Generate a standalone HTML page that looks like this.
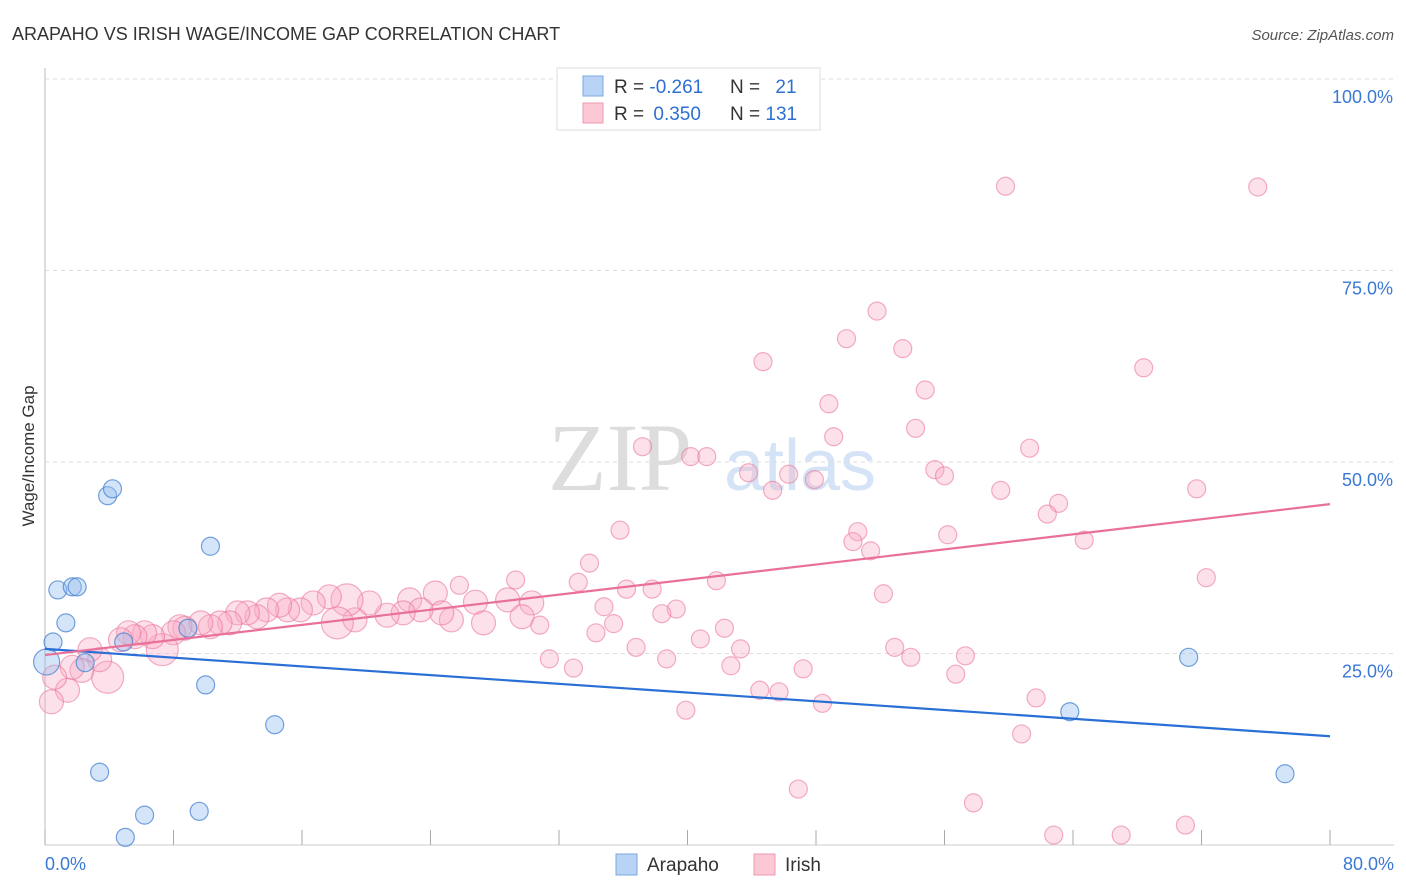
<!DOCTYPE html>
<html><head><meta charset="utf-8"><style>
body{margin:0;background:#fff;font-family:"Liberation Sans",sans-serif}
#c{position:relative;width:1406px;height:892px;overflow:hidden}
</style></head><body>
<div id="c">
<svg id="s" width="1406" height="892">
<text x="12" y="40" font-size="18" fill="#333">ARAPAHO VS IRISH WAGE/INCOME GAP CORRELATION CHART</text>
<text x="1394" y="40" font-size="15" fill="#555" text-anchor="end" font-style="italic">Source: ZipAtlas.com</text>
<text x="620" y="490" font-size="96" fill="#ddd" font-family="Liberation Serif" text-anchor="middle">ZIP</text>
<text x="800" y="490" font-size="72" fill="#d4e3f5" text-anchor="middle">atlas</text>
<text transform="translate(34,456) rotate(-90)" font-size="17" fill="#333" text-anchor="middle">Wage/Income Gap</text>
<g id="grid"></g><g id="pts"></g><g id="lines"></g>
<g>
<rect x="557" y="68" width="263" height="62" fill="#fff" stroke="#ddd"/>
<rect x="583" y="76" width="20" height="20" fill="#b8d3f5" stroke="#7aa8e0"/>
<rect x="583" y="103" width="20" height="20" fill="#fcc8d6" stroke="#ee9ab2"/>
<text x="614" y="93" font-size="19" fill="#333">R = <tspan fill="#2e6fd1">-0.261</tspan></text>
<text x="730" y="93" font-size="19" fill="#333">N = <tspan fill="#2e6fd1" dx="10">21</tspan></text>
<text x="614" y="120" font-size="19" fill="#333">R = <tspan fill="#2e6fd1" dx="4">0.350</tspan></text>
<text x="730" y="120" font-size="19" fill="#333">N = <tspan fill="#2e6fd1">131</tspan></text>
</g>
<g>
<rect x="616" y="854" width="21" height="21" fill="#b8d3f5" stroke="#7aa8e0"/>
<text x="647" y="871" font-size="19" fill="#333">Arapaho</text>
<rect x="754" y="854" width="21" height="21" fill="#fcc8d6" stroke="#ee9ab2"/>
<text x="785" y="871" font-size="19" fill="#333">Irish</text>
</g>
</svg></div>
<script>
const yTicks=[100,75,50,25];
const yTickLabels=["100.0%","75.0%","50.0%","25.0%"];
const xTicks=[0,8,16,24,32,40,48,56,64,72,80];
const arapahoX=[0.5,0.8,1.3,1.7,2.0,3.9,4.2,3.4,4.9,6.2,5.0,8.9,9.6,10.0,10.3,14.3,63.8,71.2,77.2,0.1,2.5];
const arapahoY=[26.5,33.3,29.0,33.7,33.7,45.6,46.5,9.5,26.5,3.9,1.0,28.3,4.4,20.9,39.0,15.7,17.4,24.5,9.3,23.9,23.8];
const arapahoR=[9,9,9,9,9,9,9,9,9,9,9,9,9,9,9,9,9,9,9,13,9];
const irishX=[59.8,75.5,51.8,49.9,53.4,44.7,68.4,54.8,48.8,49.1,54.2,37.2,40.2,41.2,61.3,43.8,46.3,47.9,55.4,56.0,45.3,59.5,71.7,63.1,62.4,35.8,50.6,50.3,56.2,64.7,51.4,33.9,29.3,33.2,41.8,72.3,25.8,36.2,37.8,52.2,34.8,39.3,38.4,35.4,42.3,30.8,34.3,40.8,36.8,43.3,52.9,31.4,38.7,53.9,57.3,32.9,42.7,47.2,56.7,44.5,45.7,61.7,48.4,39.9,60.8,46.9,57.8,62.8,67.0,71.0,
24.3,22.7,26.8,28.8,30.3,29.7,27.3,25.3,24.7,23.4,22.3,21.3,20.2,19.3,18.8,17.7,18.2,16.7,15.9,15.1,14.6,13.8,13.2,12.6,12.0,11.5,10.9,10.3,9.7,8.7,8.4,8.0,7.3,6.7,6.2,5.6,5.2,4.7,3.9,3.4,2.8,2.3,1.7,1.4,0.6,0.4];
const irishY=[86.0,85.9,69.7,66.1,64.8,63.1,62.3,59.4,57.6,53.3,54.4,52.0,50.7,50.7,51.8,48.6,48.4,47.7,49.0,48.2,46.3,46.3,46.5,44.6,43.2,41.1,40.9,39.6,40.5,39.8,38.4,36.8,34.6,34.3,34.5,34.9,33.9,33.4,33.4,32.8,31.1,30.8,30.2,28.9,28.3,28.7,27.7,26.9,25.8,25.6,25.8,24.3,24.3,24.5,24.7,23.1,23.4,23.0,22.3,20.2,20.0,19.2,18.5,17.6,14.5,7.3,5.5,1.3,1.3,2.6,
32.9,32.0,31.7,32.0,31.6,29.8,29.0,29.4,30.3,30.7,30.3,30.0,31.6,29.4,32.0,32.4,29.0,31.6,30.7,30.7,31.3,30.7,29.8,30.3,30.3,29.0,29.0,28.5,29.0,28.3,28.5,27.7,25.5,27.2,27.7,27.2,27.7,26.8,21.9,24.2,25.5,22.8,23.2,20.2,21.9,18.7];
const irishBigIdx=[84,86,102,108];
const trendX=[0,80];
const arapahoTrend=[25.6,14.2];
const irishTrend=[24.8,44.5];
const NS='http://www.w3.org/2000/svg';
const xs=v=>45+v*16.0625, ys=v=>845-v*7.66;
function mk(t,a,p){const e=document.createElementNS(NS,t);for(const k in a)e.setAttribute(k,a[k]);p.appendChild(e);return e;}
const grid=document.getElementById('grid'),pts=document.getElementById('pts'),lines=document.getElementById('lines');
let l=mk('line',{x1:45,y1:68,x2:45,y2:845,stroke:'#bbb'},grid);


l=mk('line',{x1:45,y1:845,x2:1394,y2:845,stroke:'#ccc'},grid);


yTicks.forEach((v,i)=>{
 const g=mk('line',{x1:45,y1:ys(v),x2:1394,y2:ys(v),stroke:'#ddd','stroke-dasharray':'4,4'},grid);
 
 
 const t=mk('text',{x:1393,y:ys(v)+24,'font-size':18,fill:'#3a78d4','text-anchor':'end'},grid);
 t.textContent=yTickLabels[i];
 
 
});
xTicks.forEach(v=>{
 const g=mk('line',{x1:xs(v),y1:830,x2:xs(v),y2:845,stroke:'#aaa'},grid);
 
 
});
[[0,'0.0%','start',45],[80,'80.0%','end',1394]].forEach(a=>{
 const t=mk('text',{x:a[3],y:870,'font-size':18,fill:'#3a78d4','text-anchor':a[2]},grid);
 t.textContent=a[1];
 
 
});
irishX.forEach((x,i)=>{
 const r=irishBigIdx.includes(i)?16:(i>=70?12:9);
 const c=mk('circle',{cx:xs(x),cy:ys(irishY[i]),r:r,fill:'rgba(248,170,195,0.35)',stroke:'rgba(235,120,155,0.6)','stroke-width':1.2},pts);
 
 
});
arapahoX.forEach((x,i)=>{
 const c=mk('circle',{cx:xs(x),cy:ys(arapahoY[i]),r:arapahoR[i],fill:'rgba(150,190,240,0.4)',stroke:'rgba(70,130,210,0.75)','stroke-width':1.2},pts);
 
 
});
let t1=mk('line',{x1:xs(trendX[0]),y1:ys(arapahoTrend[0]),x2:xs(trendX[1]),y2:ys(arapahoTrend[1]),stroke:'#2a6fd6','stroke-width':2.2},lines);


let t2=mk('line',{x1:xs(trendX[0]),y1:ys(irishTrend[0]),x2:xs(trendX[1]),y2:ys(irishTrend[1]),stroke:'#e8709a','stroke-width':2.2},lines);


</script>
</body></html>
